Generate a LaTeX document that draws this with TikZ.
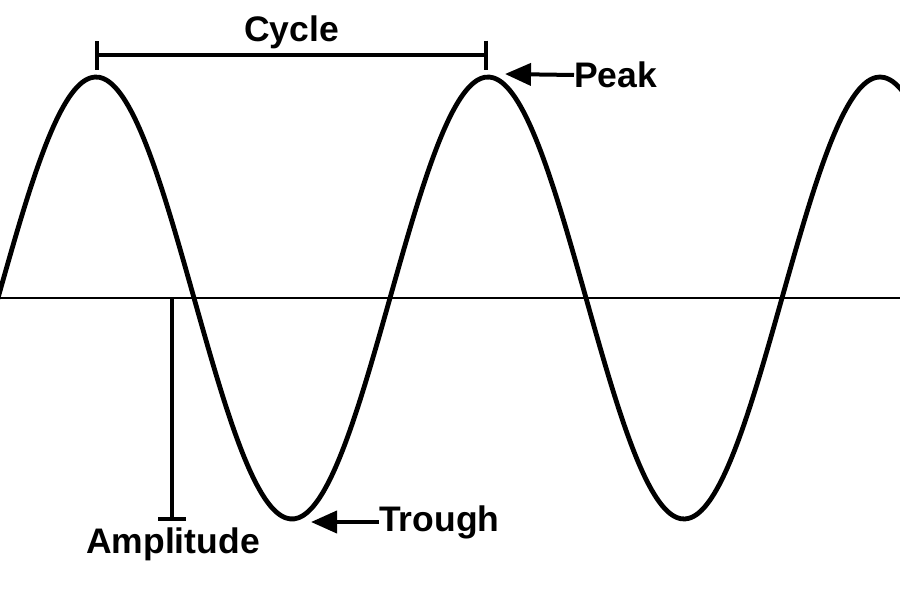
\documentclass[tikz,border=0pt]{standalone}
\usepackage{fontspec}
\setmainfont{Liberation Sans}
\usetikzlibrary{arrows.meta}

\begin{document}
\begin{tikzpicture}[x=1pt,y=-1pt,font=\fontsize{35.5}{40}\selectfont\bfseries]
        \useasboundingbox (0,0) rectangle (900,600);
        \draw[line width=2.5pt] (0,298) -- (900,298);
        \draw[line width=4.8pt,domain=-5:905,samples=220,smooth]
          plot (\x,{298-221*cos(0.91837*(\x-96))});
        \coordinate (peakA) at (95,55);
        \coordinate (peakB) at (488,55);
        \coordinate (peaktip) at (505,74);
        \coordinate (troughtip) at (311,522);
        \coordinate (axis) at (172,298);
        \coordinate (ampend) at (172,521);
        \draw[line width=4pt,{Bar[width=29pt]}-{Bar[width=29pt]}] (peakA) -- (peakB)
          node[midway,above=1pt] (cycle) {Cycle};
        \node[anchor=west,inner sep=0pt] (peak) at (574,75) {Peak};
        \draw[line width=4pt,-{Triangle[length=26pt,width=22pt]}] (peak.west) -- (peaktip);
        \node[anchor=west,inner sep=0pt] (trough) at (379,522) {Trough};
        \draw[line width=4pt,-{Triangle[length=26pt,width=22pt]}] (trough.west) -- (troughtip);
        \draw[line width=4.5pt,-{Bar[width=28pt,line width=4pt]}] (axis) -- (ampend);
        \node[inner sep=0pt] (amp) at (173,544) {Amplitude};
      \end{tikzpicture}
\end{document}
